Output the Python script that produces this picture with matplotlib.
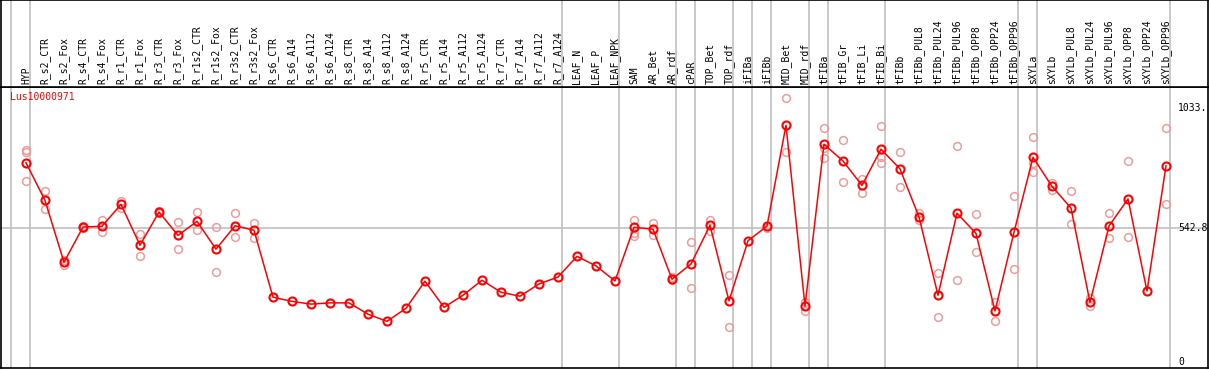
import numpy as np
import matplotlib
matplotlib.use("Agg")
import matplotlib.pyplot as plt

# categories along the x axis
labels = ["HYP", "R_s2_CTR", "R_s2_Fox", "R_s4_CTR", "R_s4_Fox", "R_r1_CTR", "R_r1_Fox",
          "R_r3_CTR", "R_r3_Fox", "R_r1s2_CTR", "R_r1s2_Fox", "R_r3s2_CTR", "R_r3s2_Fox",
          "R_s6_CTR", "R_s6_A14", "R_s6_A112", "R_s6_A124", "R_s8_CTR", "R_s8_A14",
          "R_s8_A112", "R_s8_A124", "R_r5_CTR", "R_r5_A14", "R_r5_A112", "R_r5_A124",
          "R_r7_CTR", "R_r7_A14", "R_r7_A112", "R_r7_A124", "LEAF_N", "LEAF_P", "LEAF_NPK",
          "SAM", "AR_Bet", "AR_rdf", "cPAR", "TOP_Bet", "TOP_rdf", "iFIBa", "iFIBb",
          "MID_Bet", "MID_rdf", "tFIBa", "tFIB_Gr", "tFIB_Li", "tFIB_Bi", "tFIBb",
          "tFIBb_PUL8", "tFIBb_PUL24", "tFIBb_PUL96", "tFIBb_OPP8", "tFIBb_OPP24",
          "tFIBb_OPP96", "sXYLa", "sXYLb", "sXYLb_PUL8", "sXYLb_PUL24", "sXYLb_PUL96",
          "sXYLb_OPP8", "sXYLb_OPP24", "sXYLb_OPP96"]

# mean expression per sample
means = [809, 656, 405, 548, 551, 640, 474, 609, 514, 571, 458, 553, 535,
         263, 246, 235, 240, 240, 194, 165, 218, 328, 222, 271, 332,
         283, 267, 317, 345, 429, 390, 329,
         547, 539, 336, 398, 555, 248, 492, 552,
         961, 227, 884, 816, 717, 864, 784,
         589, 271, 604, 522, 207, 527,
         831, 713, 625, 242, 552, 662, 288, 796]

# individual replicates (empty where none are shown)
reps = [[861, 851, 735], [694, 620], [414, 394], [552, 545], [575, 527], [654, 625],
        [521, 429], [612, 606], [570, 458], [608, 537], [547, 367], [604, 506], [564, 505],
        [], [], [], [], [], [], [], [], [], [], [], [],
        [], [], [], [], [], [], [],
        [577, 525, 510], [563, 516], [346, 333], [488, 299], [577, 533], [353, 142],
        [], [545],
        [1071, 851], [245, 208], [949, 870, 827], [900, 730], [744, 685], [957, 831, 807],
        [851, 709],
        [604, 577], [360, 181], [876, 332], [600, 445], [245, 165], [673, 376],
        [912, 806, 770], [728, 698], [693, 559], [258, 227], [604, 502], [815, 506],
        [], [949, 640]]

# group boundaries (gray vertical lines sit just right of these indices)
group_ends = [-1, 0, 28, 31, 34, 35, 37, 38, 39, 41, 42, 45, 52, 53, 60]
ref_level = 542.8
top_label = "1033."

W, H = 1209, 370
fig = plt.figure(figsize=(W / 100, H / 100), dpi=100)
mono = "DejaVu Sans Mono"

x = np.arange(len(labels))
xlim = ((1 - 26) / 19, (1208 - 26) / 19)
ylim = (-24.4, 1116.5)

ax = fig.add_axes([1 / W, 2 / H, 1207 / W, 281 / H])
hdr = fig.add_axes([1 / W, 283 / H, 1207 / W, 87 / H])

for a in (ax, hdr):
    a.set_xlim(*xlim)
    a.set_xticks([])
    a.set_yticks([])
    for s in a.spines.values():
        s.set_color("black")
        s.set_linewidth(1.2)
    for g in group_ends:
        a.axvline(g + 0.23, color="#c0c0c0", lw=1.2, zorder=0)

hdr.set_ylim(0, 87)
for i, lab in enumerate(labels):
    hdr.text(i, 3.5, lab, rotation=90, ha="center", va="bottom",
             fontsize=7, family=mono)

ax.set_ylim(*ylim)
ax.axhline(ref_level, color="#c0c0c0", lw=1.2, zorder=0)

rx = [i for i, r in enumerate(reps) for _ in r]
ry = [v for r in reps for v in r]
ax.plot(rx, ry, ls="none", marker="o", ms=5.6, mfc="none", mec="#ec9c9c",
        mew=1.1, zorder=2)
ax.plot(x, means, color="red", lw=1.1, zorder=3)
ax.plot(x, means, ls="none", marker="o", ms=5.8, mfc="none", mec="red",
        mew=1.5, zorder=4)

ax.text(9 / 1207, 1 - 10 / 281, "Lus10000971", transform=ax.transAxes, color="red",
        fontsize=7, family=mono, ha="left", va="center")
for val, txt in [(1033, top_label), (ref_level, "542.8"), (0, "0")]:
    ax.text(1177 / 1207, val, txt, transform=ax.get_yaxis_transform(),
            fontsize=7, family=mono, ha="left", va="center")

fig.savefig("out.png", dpi=100)
